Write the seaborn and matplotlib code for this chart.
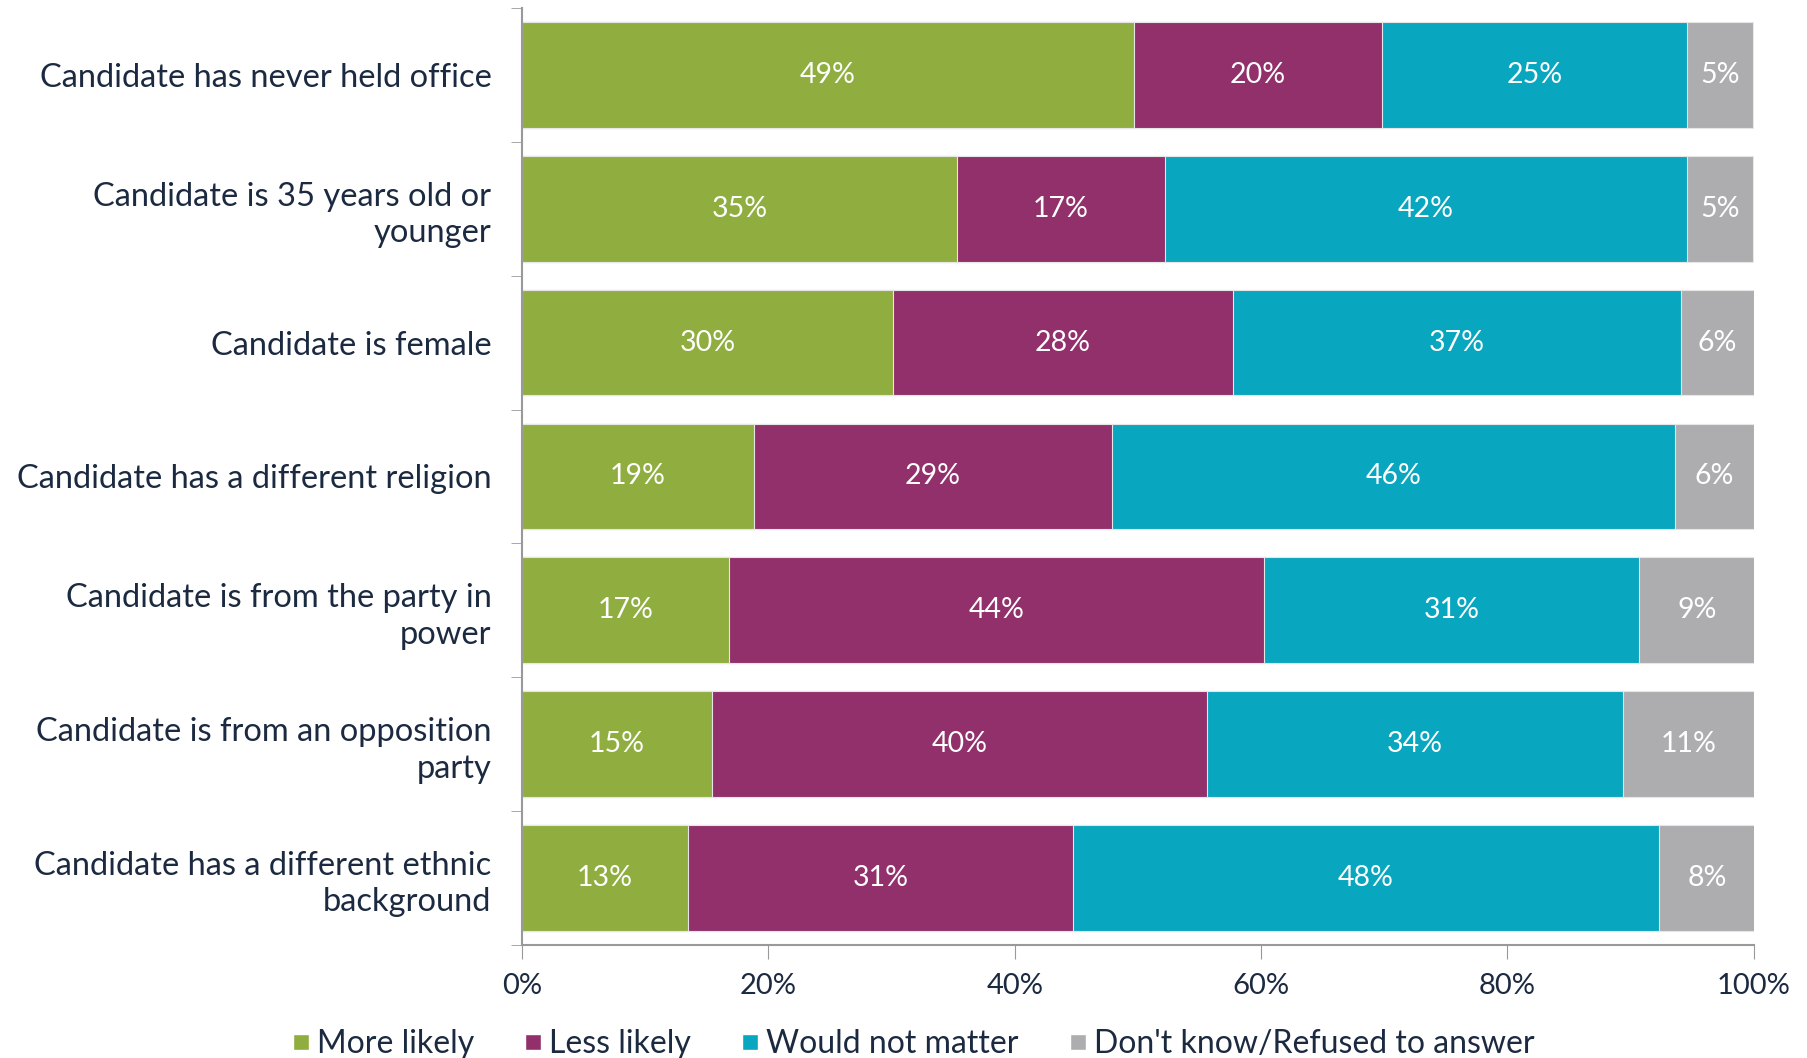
import numpy as np
import pandas as pd
import seaborn as sns
import matplotlib.pyplot as plt
from matplotlib.lines import Line2D

categories = [
    "Candidate has never held office",
    "Candidate is 35 years old or\nyounger",
    "Candidate is female",
    "Candidate has a different religion",
    "Candidate is from the party in\npower",
    "Candidate is from an opposition\nparty",
    "Candidate has a different ethnic\nbackground",
]
series = ["More likely", "Less likely", "Would not matter", "Don't know/Refused to answer"]
more_likely = [49.7, 35.3, 30.1, 18.8, 16.8, 15.4, 13.5]
less_likely = [20.1, 16.9, 27.6, 29.1, 43.4, 40.2, 31.2]
not_matter = [24.8, 42.4, 36.4, 45.7, 30.5, 33.8, 47.6]
dont_know = [5.3, 5.3, 5.9, 6.4, 9.4, 10.6, 7.8]
labels_more = ["49%", "35%", "30%", "19%", "17%", "15%", "13%"]
labels_less = ["20%", "17%", "28%", "29%", "44%", "40%", "31%"]
labels_matter = ["25%", "42%", "37%", "46%", "31%", "34%", "48%"]
labels_dk = ["5%", "5%", "6%", "6%", "9%", "11%", "8%"]
colors = ["#8FAE3F", "#92306C", "#08A6BF", "#ADADAF"]
text_color = "#1B2A40"

sns.set_style("white")
plt.rcParams["font.family"] = ["Lato", "DejaVu Sans"]

vals = np.array([more_likely, less_likely, not_matter, dont_know])
cum = np.cumsum(vals, axis=0)
df = pd.DataFrame({"category": categories})

fig = plt.figure(figsize=(18.08, 10.58), dpi=100)
ax = fig.add_axes([0.2887, 0.107, 0.6813, 0.8854])

# stacked: draw the longest cumulative first
for i in range(3, -1, -1):
    df["v"] = cum[i]
    sns.barplot(data=df, x="v", y="category", color=colors[i], orient="h",
                width=0.79, ax=ax, saturation=1, edgecolor="#E6E6E6", linewidth=0.8)

all_labels = [labels_more, labels_less, labels_matter, labels_dk]
for i in range(4):
    for j in range(len(categories)):
        start = cum[i][j] - vals[i][j]
        ax.text(start + vals[i][j] / 2, j, all_labels[i][j], ha="center", va="center",
                color="white", fontsize=20.5)

ax.set_xlim(0, 100)
ax.set_ylim(len(categories) - 0.5, -0.5)
ax.set_xticks([0, 20, 40, 60, 80, 100])
ax.set_xticklabels(["0%", "20%", "40%", "60%", "80%", "100%"], fontsize=21, color=text_color)
ax.set_yticks(range(len(categories)))
ax.set_yticklabels(categories, fontsize=23.5, color=text_color, linespacing=1.27)
ax.set_yticks(np.arange(-0.5, len(categories)), minor=True)
ax.tick_params(axis="y", which="major", length=0, pad=22)
ax.tick_params(axis="y", which="minor", length=8, color="#999999", direction="out", left=True)
ax.tick_params(axis="x", length=10, color="#999999", direction="out", bottom=True, pad=10)
ax.set_xlabel("")
ax.set_ylabel("")
for s in ["top", "right"]:
    ax.spines[s].set_visible(False)
for s in ["left", "bottom"]:
    ax.spines[s].set_color("#999999")
    ax.spines[s].set_linewidth(1.5)

handles = [Line2D([0], [0], marker="s", color="w", markerfacecolor=c, markersize=12, linestyle="")
           for c in colors]
leg = fig.legend(handles, series, loc="lower center", ncol=4, frameon=False,
                 bbox_to_anchor=(0.503, -0.028), fontsize=23, handletextpad=0.0,
                 columnspacing=1.35, handlelength=1.0)
for t in leg.get_texts():
    t.set_color(text_color)

fig.savefig("out.png", dpi=100)
